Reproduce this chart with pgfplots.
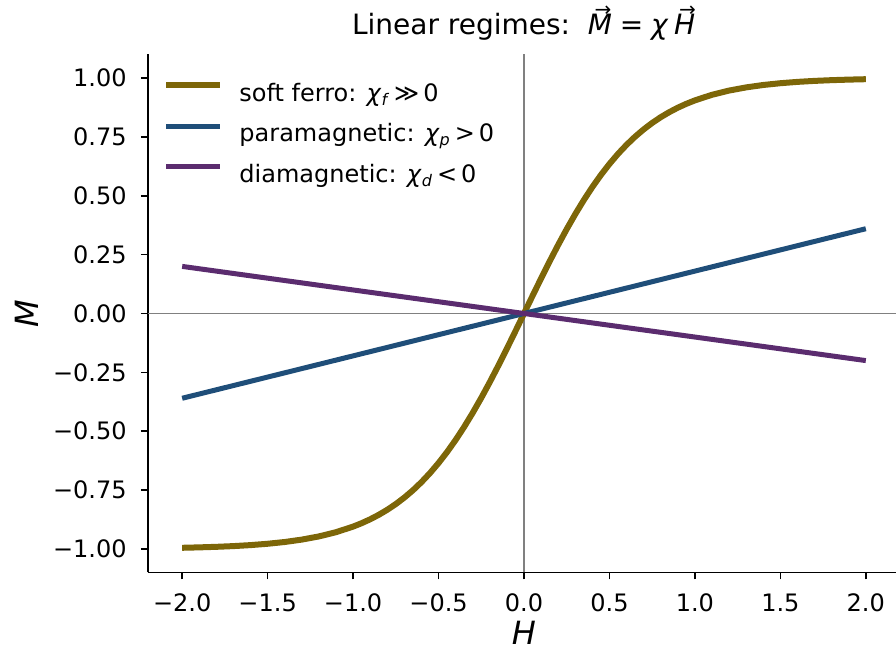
\documentclass[border=0pt]{standalone}
\usepackage{fontspec}
\setmainfont{DejaVu Sans}
\usepackage{amsmath}
\usepackage{pgfplots}
\pgfplotsset{compat=1.18}
\definecolor{ferro}{HTML}{7D6608}
\definecolor{para}{HTML}{1F4E79}
\definecolor{dia}{HTML}{5B2C6F}
\definecolor{zeroline}{HTML}{808080}
% arrow set above an italic letter, as in the title
\newcommand{\arrowover}[1]{\leavevmode\vbox{\offinterlineskip\halign{\hfil##\hfil\cr
  \kern3pt{\fontsize{10}{10}\selectfont →}\cr\noalign{\kern-1.2pt}\textit{#1}\cr}}}

\begin{document}
\begin{tikzpicture}
\begin{axis}[
    name=ax,
    scale only axis,
    width=376pt, height=259pt,
    xmin=-2.2, xmax=2.2, ymin=-1.1, ymax=1.1,
    axis lines*=left,
    axis line style={black, line width=0.8pt, -},
    tick align=outside,
    major tick length=3.5pt,
    tick style={black, line width=0.8pt},
    xtick={-2,-1.5,-1,-0.5,0,0.5,1,1.5,2},
    xticklabels={−2.0,−1.5,−1.0,−0.5,0.0,0.5,1.0,1.5,2.0},
    ytick={-1,-0.75,-0.5,-0.25,0,0.25,0.5,0.75,1},
    yticklabels={−1.00,−0.75,−0.50,−0.25,0.00,0.25,0.50,0.75,1.00},
    tick label style={font=\fontsize{12}{14}\selectfont, inner sep=0pt},
    xticklabel style={anchor=north, yshift=-7pt},
    yticklabel style={anchor=east, xshift=-7pt},
    xlabel={\textit{H}},
    ylabel={\textit{M}},
    label style={font=\fontsize{16}{18}\selectfont},
    xlabel style={at={(axis description cs:0.5,-0.139)}, anchor=base},
    ylabel style={at={(axis description cs:-0.145,0.5)}, anchor=base},
    title={Linear regimes:\ \ \arrowover{M}\;=\;\textit{χ}\,\arrowover{H}},
    every axis title/.style={font=\fontsize{14}{16}\selectfont,
      at={(axis description cs:0.5,1)}, anchor=base, yshift=9.75pt},
    legend cell align=left,
    legend image code/.code={\path (0pt,0pt); \draw[#1] (0pt,4.8pt) -- (27pt,4.8pt);},
    legend style={
      draw=none, fill=none, inner sep=0pt,
      at={(axis description cs:0.02,0.947)}, anchor=north west,
      font=\fontsize{12}{14}\selectfont,
      nodes={inner sep=0pt, text height=9pt, text depth=2.8pt},
      row sep=8.4pt,
      /tikz/every odd column/.style={column sep=8pt},
    },
  ]
  \addplot[zeroline, line width=0.8pt, forget plot] coordinates {(-2.2,0) (2.2,0)};
  \addplot[zeroline, line width=0.8pt, forget plot] coordinates {(0,-1.1) (0,1.1)};

  \addplot[ferro, line width=3pt] coordinates {
    (-2.0,-0.9951) (-1.9,-0.9933) (-1.8,-0.9910) (-1.7,-0.9879) (-1.6,-0.9837)
    (-1.5,-0.9780) (-1.4,-0.9705) (-1.3,-0.9603) (-1.2,-0.9468) (-1.1,-0.9289)
    (-1.0,-0.9051) (-0.95,-0.8906) (-0.9,-0.8741) (-0.85,-0.8551) (-0.8,-0.8337)
    (-0.75,-0.8093) (-0.7,-0.7818) (-0.65,-0.7509) (-0.6,-0.7163) (-0.55,-0.6778)
    (-0.5,-0.6351) (-0.45,-0.5883) (-0.4,-0.5371) (-0.35,-0.4816) (-0.3,-0.4219)
    (-0.25,-0.3584) (-0.2,-0.2913) (-0.15,-0.2213) (-0.1,-0.1489) (-0.05,-0.0749)
    (0,0)
    (0.05,0.0749) (0.1,0.1489) (0.15,0.2213) (0.2,0.2913) (0.25,0.3584)
    (0.3,0.4219) (0.35,0.4816) (0.4,0.5371) (0.45,0.5883) (0.5,0.6351)
    (0.55,0.6778) (0.6,0.7163) (0.65,0.7509) (0.7,0.7818) (0.75,0.8093)
    (0.8,0.8337) (0.85,0.8551) (0.9,0.8741) (0.95,0.8906) (1.0,0.9051)
    (1.1,0.9289) (1.2,0.9468) (1.3,0.9603) (1.4,0.9705) (1.5,0.9780)
    (1.6,0.9837) (1.7,0.9879) (1.8,0.9910) (1.9,0.9933) (2.0,0.9951)
  };
  \addlegendentry{soft ferro: \textit{χ}\textsubscript{\textit{f}}\,≫\,0}

  \addplot[para, line width=2.5pt] coordinates {(-2,-0.36) (0,0) (2,0.36)};
  \addlegendentry{paramagnetic: \textit{χ}\textsubscript{\textit{p}}\,>\,0}

  \addplot[dia, line width=2.5pt] coordinates {(-2,0.2) (0,0) (2,-0.2)};
  \addlegendentry{diamagnetic: \textit{χ}\textsubscript{\textit{d}}\,<\,0}
\end{axis}
\pgfresetboundingbox
\path (ax.south west) ++(-74pt,-39.75pt) rectangle ++(448pt,326pt);
\end{tikzpicture}
\end{document}
